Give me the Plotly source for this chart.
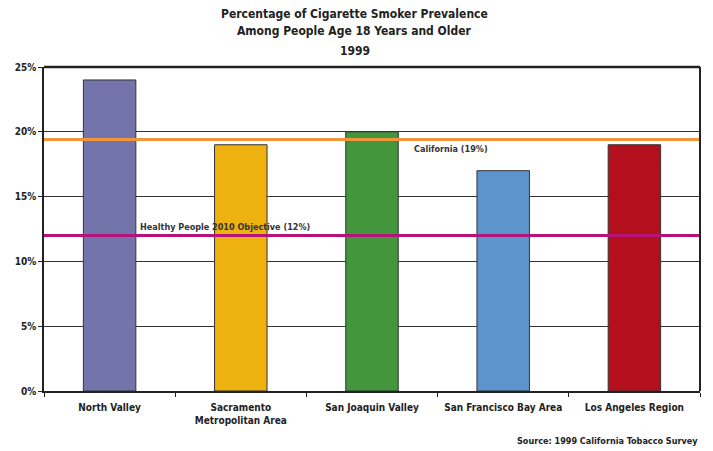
import plotly.graph_objects as go

regions = ["North Valley", "Sacramento<br>Metropolitan Area", "San Joaquin Valley",
           "San Francisco Bay Area", "Los Angeles Region"]
prevalence = [24, 19, 20, 17, 19]
bar_colors = ["#7374a9", "#edb110", "#43963c", "#5e94cd", "#b30f1c"]
california_rate = 19.4
objective_rate = 12
y_ticks = [0, 5, 10, 15, 20, 25]
y_tick_labels = ["0%", "5%", "10%", "15%", "20%", "25%"]
title_lines = ["Percentage of Cigarette Smoker Prevalence",
               "Among People Age 18 Years and Older", "1999"]

FONT = "DejaVu Sans Condensed"
DARK = "#222222"

fig = go.Figure()
fig.add_trace(go.Bar(
    x=regions, y=prevalence,
    marker=dict(color=bar_colors, line=dict(color="#333333", width=1)),
    width=0.4, hoverinfo="x+y",
))

fig.add_shape(type="line", xref="paper", yref="y", x0=0, x1=1,
              y0=california_rate, y1=california_rate,
              line=dict(color="#f0953a", width=3), layer="above")
fig.add_shape(type="line", xref="paper", yref="y", x0=0, x1=1,
              y0=objective_rate, y1=objective_rate,
              line=dict(color="#b5137b", width=3), layer="above")
# frame: top and right
fig.add_shape(type="line", xref="paper", yref="paper", x0=0, x1=1, y0=1, y1=1,
              line=dict(color=DARK, width=2.5), layer="above")
fig.add_shape(type="line", xref="paper", yref="paper", x0=1, x1=1, y0=0, y1=1,
              line=dict(color=DARK, width=2), layer="above")

fig.add_annotation(text="California (19%)", xref="paper", yref="y",
                   x=0.561, y=california_rate, xanchor="left", yanchor="top",
                   yshift=-2, showarrow=False,
                   font=dict(family=FONT, size=9, color="#333333", weight="bold"))
fig.add_annotation(text="Healthy People 2010 Objective (12%)", xref="paper", yref="y",
                   x=0.143, y=objective_rate, xanchor="left", yanchor="bottom",
                   yshift=1, showarrow=False,
                   font=dict(family=FONT, size=9, color="#333333", weight="bold"))
fig.add_annotation(text="Source: 1999 California Tobacco Survey", xref="paper", yref="paper",
                   x=1, y=0, xanchor="right", yanchor="middle", yshift=-50,
                   showarrow=False,
                   font=dict(family=FONT, size=9, color=DARK, weight="bold"))

for line_text, shift in zip(title_lines, [53, 36, 16]):
    fig.add_annotation(text=line_text, xref="paper", yref="paper",
                       x=0.474, y=1, xanchor="center", yanchor="middle", yshift=shift,
                       showarrow=False,
                       font=dict(family=FONT, size=12, color=DARK, weight="bold"))

fig.update_layout(
    width=705, height=443,
    margin=dict(l=36, r=13, t=59, b=60),
    paper_bgcolor="white", plot_bgcolor="white",
    showlegend=False,
    bargap=0.6,
    font=dict(family=FONT, size=10, color=DARK),
    xaxis=dict(
        type="category", showgrid=False, showline=True, linecolor=DARK, linewidth=1.5,
        ticks="outside", tickson="boundaries", ticklen=4, tickcolor=DARK,
        ticklabelstandoff=6, automargin=False,
        tickfont=dict(family=FONT, size=10, color=DARK, weight="bold"),
    ),
    yaxis=dict(
        range=[0, 25], tickvals=y_ticks, ticktext=y_tick_labels,
        showgrid=True, gridcolor="#333333", gridwidth=1,
        showline=True, linecolor=DARK, linewidth=1.5,
        ticks="outside", ticklen=4, tickcolor=DARK, automargin=False,
        tickfont=dict(family=FONT, size=10, color=DARK, weight="bold"),
        zeroline=False,
    ),
)

fig.write_html("out.html")
